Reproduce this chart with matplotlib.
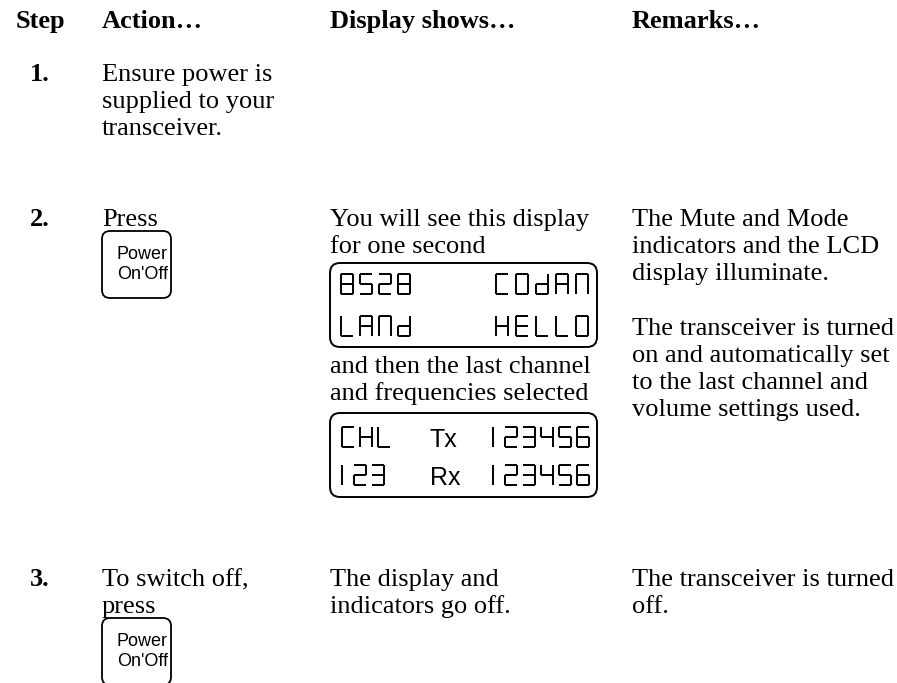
import matplotlib
matplotlib.use("Agg")
import matplotlib.pyplot as plt
from matplotlib.patches import FancyBboxPatch

# --- Page content
headers = ["Step", "Action…", "Display shows…", "Remarks…"]
step_numbers = ["1.", "2.", "3."]
step1_action = ["Ensure power is", "supplied to your", "transceiver."]
step2_action = ["Press"]
step2_display_top = ["You will see this display", "for one second"]
step2_display_mid = ["and then the last channel", "and frequencies selected"]
step2_remarks_a = ["The Mute and Mode", "indicators and the LCD", "display illuminate."]
step2_remarks_b = ["The transceiver is turned", "on and automatically set",
                   "to the last channel and", "volume settings used."]
step3_action = ["To switch off,", "press"]
step3_display = ["The display and", "indicators go off."]
step3_remarks = ["The transceiver is turned", "off."]
button_lines = ["Power", "On'Off"]
lcd1_rows = [("8528", "COdAN"), ("LANd", "HELLO")]
lcd2_rows = [("CHL", "Tx", "123456"), ("123", "Rx", "123456")]

# seven segment map: a top, b top-right, c bottom-right, d bottom, e bottom-left, f top-left, g middle
SEG = {
    "1": "ef", "2": "abged", "3": "abgcd", "4": "fgbc",
    "5": "afgcd", "6": "afgedc", "8": "abcdefg",
    "C": "afed", "O": "abcdef", "d": "bcdeg", "A": "abcefg", "N": "abcef",
    "L": "fed", "H": "bcefg", "E": "afged",
}

W, H = 897, 683
fig = plt.figure(figsize=(W / 100, H / 100), dpi=100)
ax = fig.add_axes([0, 0, 1, 1])
ax.set_xlim(0, W)
ax.set_ylim(H, 0)
ax.axis("off")

SERIF = "Liberation Serif"
SANS = "Liberation Sans"
FS = 19
LS = 27   # line spacing (px)

col_step, col_action, col_display, col_remarks = 30, 102, 330, 632


def lines(x, y0, texts, **kw):
    for i, t in enumerate(texts):
        ax.text(x, y0 + i * LS, t, family=SERIF, fontsize=FS, va="baseline", **kw)


def button(x, y):
    ax.add_patch(FancyBboxPatch((x, y), 69, 67, boxstyle="round,pad=0,rounding_size=8",
                                fc="white", ec="black", lw=1.3))
    for i, t in enumerate(button_lines):
        ax.text(x + 66, y + 28 + i * 20, t, family=SANS, fontsize=13,
                ha="right", va="baseline")


def seg_char(ch, x, y, w=12, h=20, lw=1.4):
    s = SEG.get(ch, "")
    pts = {
        "a": [(x, y), (x + w, y)],
        "b": [(x + w, y), (x + w, y + h / 2)],
        "c": [(x + w, y + h / 2), (x + w, y + h)],
        "d": [(x, y + h), (x + w, y + h)],
        "e": [(x, y + h / 2), (x, y + h)],
        "f": [(x, y), (x, y + h / 2)],
        "g": [(x, y + h / 2), (x + w, y + h / 2)],
    }
    for k in s:
        (x1, y1), (x2, y2) = pts[k]
        ax.plot([x1, x2], [y1, y2], color="black", lw=lw, solid_capstyle="butt")


def seg_text(txt, x, y, pitch=19):
    for ch in txt:
        seg_char(ch, x, y)
        x += 12 if ch == "1" else pitch


def lcd_box(y):
    ax.add_patch(FancyBboxPatch((col_display, y), 267, 84, boxstyle="round,pad=0,rounding_size=10",
                                fc="white", ec="black", lw=1.4))


# headers
for x, t in zip([16, col_action, col_display, col_remarks], headers):
    ax.text(x, 28, t, family=SERIF, fontsize=FS, weight="bold", va="baseline")

# step 1
ax.text(col_step, 81, step_numbers[0], family=SERIF, fontsize=FS, weight="bold", va="baseline")
lines(col_action, 81, step1_action)

# step 2
ax.text(col_step, 226, step_numbers[1], family=SERIF, fontsize=FS, weight="bold", va="baseline")
lines(col_action, 226, step2_action)
button(col_action, 231)
lines(col_display, 226, step2_display_top)
lines(col_remarks, 226, step2_remarks_a)
lines(col_remarks, 335, step2_remarks_b)

lcd_box(263)
seg_text(lcd1_rows[0][0], 341, 274)
seg_text(lcd1_rows[0][1], 496, 274, pitch=20)
seg_text(lcd1_rows[1][0], 341, 316)
seg_text(lcd1_rows[1][1], 496, 316, pitch=20)

lines(col_display, 373, step2_display_mid)

lcd_box(413)
for r, yy in zip(lcd2_rows, [427, 465]):
    seg_text(r[0], 342, yy, pitch=18)
    ax.text(430, yy + 20, r[1], family=SANS, fontsize=18, va="baseline")
    seg_text(r[2], 493, yy, pitch=18)

# step 3
ax.text(col_step, 586, step_numbers[2], family=SERIF, fontsize=FS, weight="bold", va="baseline")
lines(col_action, 586, step3_action)
button(col_action, 618)
lines(col_display, 586, step3_display)
lines(col_remarks, 586, step3_remarks)

fig.savefig("out.png", dpi=100, facecolor="white")
